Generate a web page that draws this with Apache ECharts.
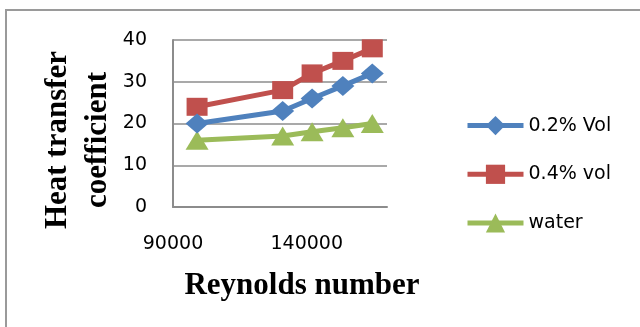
<!DOCTYPE html>
<html>
<head>
<meta charset="utf-8">
<script src="https://cdn.jsdelivr.net/npm/echarts@6/dist/echarts.min.js"></script>
<style>
  html, body { margin: 0; padding: 0; background: #fff; }
  #chart { width: 640px; height: 327px; }
</style>
</head>
<body>
<div id="chart"></div>
<script>
// Reynolds number at each measurement point
const reynolds = [99000, 131000, 142000, 153500, 164500];
// Heat transfer coefficient per fluid
const vol02 = [20, 23, 26, 29, 32];
const vol04 = [24, 28, 32, 35, 38];
const water = [16, 17, 18, 19, 20];
const seriesNames = ['0.2% Vol', '0.4% vol', 'water'];
const xTickLabels = [90000, 140000];
const yTicks = [0, 10, 20, 30, 40];

const pairs = ys => reynolds.map((x, i) => [x, ys[i]]);

const colors = ['#4F81BD', '#C0504D', '#9BBB59'];
const symbols = ['diamond', 'rect', 'triangle'];
const sizes = [[23, 20], [21, 18], [23, 19]];
const values = [vol02, vol04, water];

const chart = echarts.init(document.getElementById('chart'), null, { renderer: 'canvas' });

chart.setOption({
  animation: false,
  backgroundColor: '#ffffff',
  grid: { left: 173, right: 253, top: 40, bottom: 120, containLabel: false },
  xAxis: {
    type: 'value',
    min: 90000,
    max: 170000,
    interval: 10000,
    axisLine: { show: true, lineStyle: { color: '#8c8c8c', width: 2 } },
    axisTick: { show: false },
    splitLine: { show: false },
    axisLabel: {
      margin: 28,
      showMaxLabel: false,
      fontFamily: 'DejaVu Sans',
      fontSize: 19,
      color: '#000',
      formatter: v => (xTickLabels.indexOf(v) >= 0 ? String(v) : '')
    }
  },
  yAxis: {
    type: 'value',
    min: yTicks[0],
    max: yTicks[yTicks.length - 1],
    interval: 10,
    axisLine: { show: true, lineStyle: { color: '#8c8c8c', width: 2 } },
    axisTick: { show: false },
    splitLine: { show: true, lineStyle: { color: '#8c8c8c', width: 1.6 } },
    axisLabel: {
      margin: 26,
      fontFamily: 'DejaVu Sans',
      fontSize: 19,
      color: '#000'
    }
  },
  legend: {
    orient: 'vertical',
    left: 465,
    top: 116,
    padding: 0,
    itemWidth: 56,
    itemHeight: 24,
    itemGap: 29.5,
    lineStyle: { width: 5 },
    textStyle: { fontFamily: 'DejaVu Sans', fontSize: 19, color: '#000' },
    data: seriesNames
  },
  series: seriesNames.map((name, i) => ({
    name: name,
    type: 'line',
    data: pairs(values[i]),
    symbol: symbols[i],
    symbolSize: sizes[i],
    showAllSymbol: true,
    lineStyle: { color: colors[i], width: 5 },
    itemStyle: { color: colors[i] },
    z: 3 - i
  })),
  graphic: [
    {
      type: 'rect',
      shape: { x: 6, y: 10, width: 700, height: 400 },
      style: { fill: 'none', stroke: '#9a9a9a', lineWidth: 2 },
      silent: true
    },
    {
      type: 'text',
      x: 302,
      y: 286,
      style: {
        text: 'Reynolds number',
        font: 'bold 31px "Liberation Serif"',
        fill: '#000',
        align: 'center',
        verticalAlign: 'middle'
      }
    },
    {
      type: 'text',
      x: 78,
      y: 140,
      rotation: Math.PI / 2,
      style: {
        text: 'Heat transfer\ncoefficient',
        font: 'bold 31px "Liberation Serif"',
        lineHeight: 40,
        fill: '#000',
        align: 'center',
        verticalAlign: 'middle'
      }
    }
  ]
});
</script>
</body>
</html>
